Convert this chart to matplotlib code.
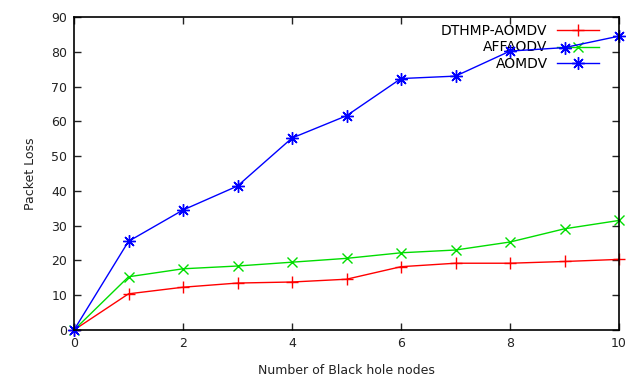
import matplotlib
matplotlib.use("Agg")
import matplotlib.pyplot as plt

# number of black hole nodes
nodes = [0, 1, 2, 3, 4, 5, 6, 7, 8, 9, 10]

# packet loss per protocol
dthmp_aomdv = [0, 10.4, 12.3, 13.5, 13.8, 14.6, 18.2, 19.2, 19.2, 19.7, 20.3]
affaodv = [0, 15.3, 17.6, 18.4, 19.5, 20.6, 22.2, 23.0, 25.3, 29.1, 31.5]
aomdv = [0, 25.5, 34.5, 41.4, 55.2, 61.6, 72.3, 73.0, 80.2, 81.2, 84.5]

fig = plt.figure(figsize=(6.41, 3.81), dpi=100)
ax = fig.add_axes([74 / 641, 1 - 330 / 381, (619 - 74) / 641, (330 - 17) / 381])

ax.plot(nodes, dthmp_aomdv, color="#ff0000", marker="+", markersize=8,
        markeredgewidth=1.0, linewidth=1.0, label="DTHMP-AOMDV", clip_on=False)
ax.plot(nodes, affaodv, color="#00dd00", marker="x", markersize=7,
        markeredgewidth=1.0, linewidth=1.0, label="AFFAODV", clip_on=False)
ax.plot(nodes, aomdv, color="#0000ff", marker=(8, 2, 0), markersize=9,
        markeredgewidth=1.0, linewidth=1.0, label="AOMDV", clip_on=False)

ax.set_xlim(0, 10)
ax.set_ylim(0, 90)
ax.set_xticks([0, 2, 4, 6, 8, 10])
ax.set_yticks(range(0, 91, 10))
ax.tick_params(direction="in", top=True, right=True, length=5, width=1,
               labelsize=9, colors="#222222", pad=5)
for s in ax.spines.values():
    s.set_linewidth(1.2)

ax.set_xlabel("Number of Black hole nodes", fontsize=9, color="#222222", labelpad=10)
ax.set_ylabel("Packet Loss", fontsize=9, color="#222222", labelpad=10)

leg = ax.legend(loc="upper right", bbox_to_anchor=(0.981, 1.01), frameon=False,
                markerfirst=False, fontsize=10, handlelength=3.0,
                labelspacing=0.2, borderpad=0.2, handletextpad=0.7)
for t in leg.get_texts():
    t.set_ha("right")
leg._legend_box.align = "right"
leg.set_zorder(0.5)

fig.savefig("out.png", dpi=100)
